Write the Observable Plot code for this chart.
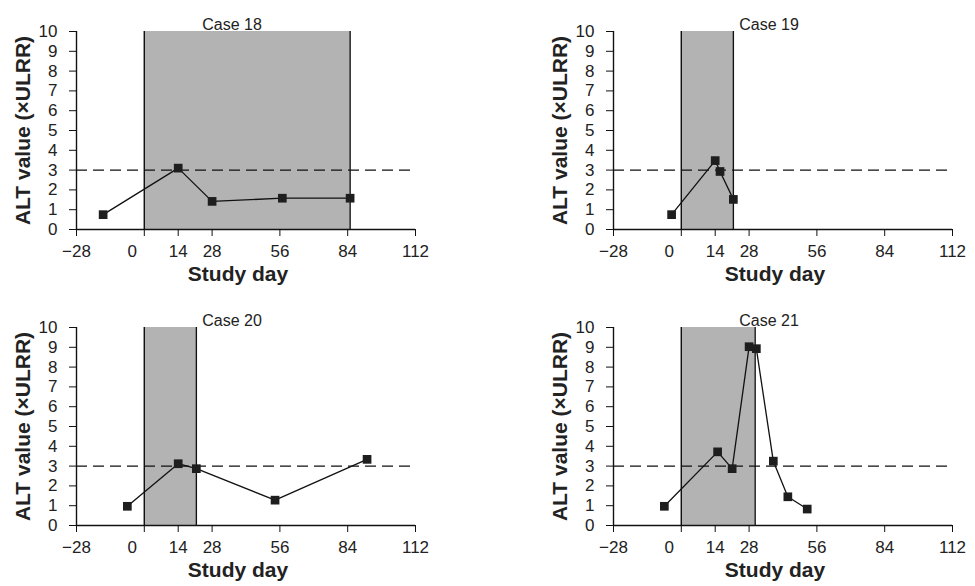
<!DOCTYPE html>
<html>
<head>
<meta charset="utf-8">
<script src="https://cdn.jsdelivr.net/npm/d3@7"></script>
<script src="https://cdn.jsdelivr.net/npm/@observablehq/plot@0.6"></script>
<style>
  html, body { margin: 0; padding: 0; background: #fff; }
  #wrap { position: relative; width: 975px; height: 586px; overflow: hidden; background: #fff; }
  .panel { position: absolute; }
</style>
</head>
<body>
<div id="wrap"></div>
<script>
// ---- data ----
const xTicks = [-28, 0, 14, 28, 56, 84, 112];
const yTicks = [0, 1, 2, 3, 4, 5, 6, 7, 8, 9, 10];
const threshold = 3;

const caseTitles = ["Case 18", "Case 19", "Case 20", "Case 21"];

const case18Day = [-17, 14, 28, 57, 85];
const case18Alt = [0.75, 3.1, 1.42, 1.58, 1.58];
const case18Shade = [0, 85];

const case19Day = [-4, 14, 16, 21.5];
const case19Alt = [0.75, 3.48, 2.93, 1.52];
const case19Shade = [0, 21.5];

const case20Day = [-7, 14, 21.5, 54, 92];
const case20Alt = [0.97, 3.12, 2.87, 1.28, 3.34];
const case20Shade = [0, 21.5];

const case21Day = [-7, 15, 21, 28, 31, 38, 44, 52];
const case21Alt = [0.97, 3.72, 2.87, 9.03, 8.93, 3.25, 1.45, 0.83];
const case21Shade = [0, 30.5];

const xLabel = "Study day";
const yLabel = "ALT value (×ULRR)";

// ---- drawing ----
const fmt = d3.format("d");
function panel(title, days, alts, shade) {
  const data = days.map((d, i) => ({day: d, alt: alts[i]}));
  const shadeData = [{x1: shade[0], x2: shade[1]}];
  return Plot.plot({
    width: 437,
    height: 290,
    marginLeft: 76,
    marginRight: 22,
    marginTop: 31,
    marginBottom: 61,
    style: {fontFamily: "'Liberation Sans', Arial, sans-serif", fontSize: "17px", color: "#222", background: "white", overflow: "visible"},
    x: {domain: [-28, 112], ticks: xTicks},
    y: {domain: [0, 10], ticks: yTicks},
    marks: [
      Plot.rect(shadeData, {x1: "x1", x2: "x2", y1: 0, y2: 10, fill: "#b3b3b3"}),
      Plot.ruleX(shade, {y1: 0, y2: 10, stroke: "#111", strokeWidth: 1.4}),
      Plot.ruleY([threshold], {x1: -28, x2: 112, stroke: "#111", strokeWidth: 1.4, strokeDasharray: "11,6"}),
      Plot.ruleY([0], {x1: -28, x2: 112, stroke: "#111", strokeWidth: 1.4}),
      Plot.ruleX([-28], {y1: 0, y2: 10, stroke: "#111", strokeWidth: 1.4}),
      Plot.axisX({ticks: xTicks, tickSize: 7, tickPadding: 8, label: null, stroke: "#111",
                  tickFormat: d => d === 0 ? "" : fmt(d)}),
      Plot.axisX({ticks: [0], tickSize: 0, tickPadding: 15, label: null, dx: -12, tickFormat: fmt}),
      Plot.axisY({ticks: yTicks, tickSize: 7, tickPadding: 12, label: null, stroke: "#111"}),
      Plot.line(data, {x: "day", y: "alt", stroke: "#111", strokeWidth: 1.3}),
      Plot.dot(data, {x: "day", y: "alt", symbol: "square", r: 4.9, fill: "#1e1e1e", stroke: "none"}),
      Plot.text([title], {frameAnchor: "top", dy: -13, dx: -14, fontSize: 16, fill: "#222"}),
      Plot.text([xLabel], {frameAnchor: "bottom", dy: 51, dx: -8, fontSize: 21, fontWeight: "bold", fill: "#222"}),
      Plot.text([yLabel], {frameAnchor: "left", textAnchor: "middle", dx: -53, rotate: -90, fontSize: 21, fontWeight: "bold", fill: "#222"})
    ]
  });
}

const wrap = document.getElementById("wrap");
const specs = [
  [caseTitles[0], case18Day, case18Alt, case18Shade, 0, 0],
  [caseTitles[1], case19Day, case19Alt, case19Shade, 537, 0],
  [caseTitles[2], case20Day, case20Alt, case20Shade, 0, 296],
  [caseTitles[3], case21Day, case21Alt, case21Shade, 537, 296]
];
for (const [t, d, a, s, left, top] of specs) {
  const div = document.createElement("div");
  div.className = "panel";
  div.style.left = left + "px";
  div.style.top = top + "px";
  div.appendChild(panel(t, d, a, s));
  wrap.appendChild(div);
}
</script>
</body>
</html>
